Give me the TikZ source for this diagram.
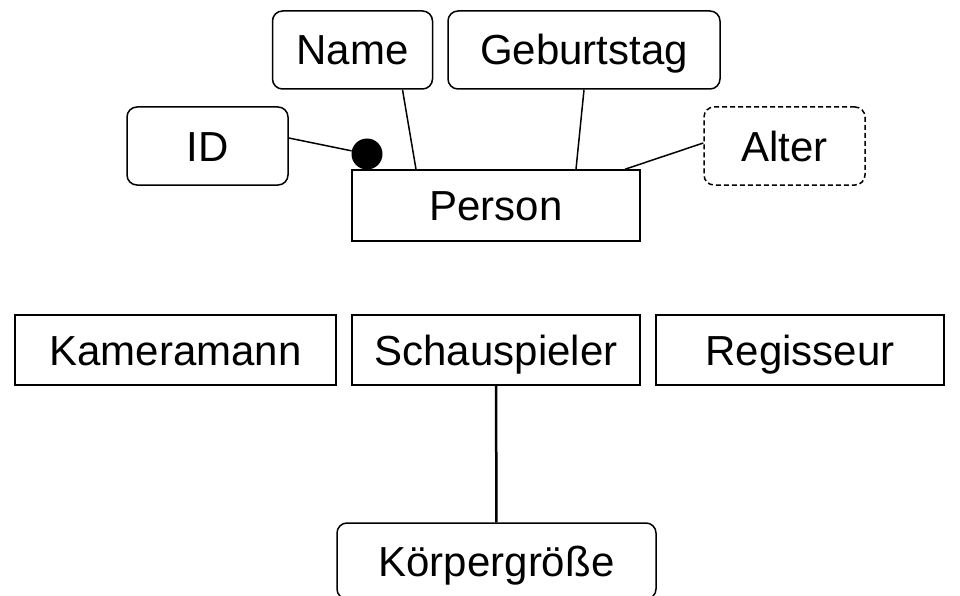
\documentclass[tikz,border=0pt]{standalone}
\usepackage{fontspec}
\setmainfont{Liberation Sans}
\usetikzlibrary{calc, positioning}

\begin{document}
\begin{tikzpicture}[x=1pt, y=-1pt, auto]
				\tikzstyle{entity} = [draw=black, line width=1.5pt, rectangle, inner sep=0pt, text height=30pt, text depth=0pt, font=\fontsize{42}{50}\selectfont]
				\tikzstyle{attrib} = [entity, rounded corners=10pt]
				\tikzstyle{derived} = [attrib, dash pattern=on 5pt off 3pt]
				\tikzstyle{key} = [draw=none, fill=black, circle, inner sep=0pt, minimum size=31pt]
				\tikzstyle{conn} = [line width=1.5pt]
				
				\useasboundingbox (0,0) rectangle (960,596);
				
				% Person mit Attributen
				\node[entity, minimum width=288pt, minimum height=71pt] at (496, 205.5)	(person)	{Person};
				\node[attrib, minimum width=160pt, minimum height=78pt] at (352.5, 50)	(name)		{Name};
				\node[attrib, minimum width=272pt, minimum height=78pt] at (584, 50)	(geb)		{Geburtstag};
				\node[attrib, minimum width=161pt, minimum height=78pt] at (207.5, 146)	(id)		{ID};
				\node[derived, minimum width=161pt, minimum height=78pt] at (784.5, 146)	(alter)		{Alter};
				\node[key] at (367, 154) (idkey) {};
				
				% Rollen
				\node[entity, minimum width=321pt, minimum height=70pt] at (175.5, 350)	(kamera)	{Kameramann};
				\node[entity, minimum width=288pt, minimum height=70pt] at (496, 350)	(schau)		{Schauspieler};
				\node[entity, minimum width=288pt, minimum height=70pt] at (800, 350)	(regie)		{Regisseur};
				\node[attrib, minimum width=319pt, minimum height=76pt] at (496.5, 561)	(groesse)	{Körpergröße};
				
				\path[conn]
				([yshift=8pt]id.east)		edge	(idkey)
				([xshift=50pt]name.south)	edge	([xshift=-80pt]person.north)
				(geb.south)					edge	([xshift=80pt]person.north)
				([xshift=129pt]person.north)	edge	([yshift=3pt]alter.west);
				\draw[line width=2.5pt] (schau) -- (groesse);
			\end{tikzpicture}
\end{document}
